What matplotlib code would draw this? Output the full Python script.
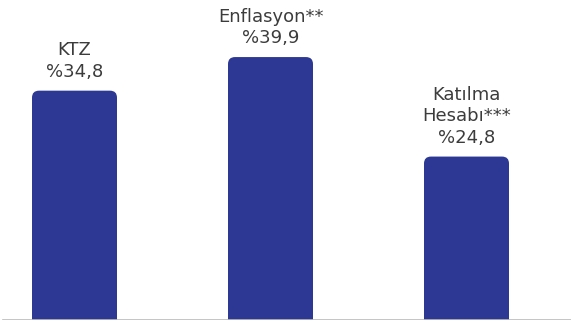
import matplotlib
matplotlib.use('Agg')
import matplotlib.pyplot as plt
from matplotlib.patches import FancyBboxPatch

# veriler
labels = ['KTZ', 'Enflasyon**', 'Katılma\nHesabı***']
values = [34.8, 39.9, 24.8]
value_text = ['%34,8', '%39,9', '%24,8']

bar_color = '#2c3893'
text_color = '#3c3c3c'

plt.rcParams['font.family'] = ['DejaVu Sans']

fig = plt.figure(figsize=(5.71, 3.22), dpi=100)
ax = fig.add_axes([0, 2 / 322, 1, 320 / 322])

px_per_unit = 6.59
ax.set_ylim(0, 320 / px_per_unit)
ax.set_xlim(-74.5 / 196, (571 - 74.5) / 196)

# üstü yuvarlatılmış çubuklar
width = 85 / 196
radius_x = 7 / 196
aspect = 196 / px_per_unit
for i, v in enumerate(values):
    bar = FancyBboxPatch((i - width / 2, -3), width, v + 3,
                         boxstyle=f'round,pad=0,rounding_size={radius_x}',
                         mutation_aspect=aspect,
                         facecolor=bar_color, edgecolor='none')
    ax.add_patch(bar)
    ax.annotate(labels[i] + '\n' + value_text[i], (i, v),
                xytext=(0, 7), textcoords='offset points',
                ha='center', va='bottom', fontsize=13,
                color=text_color, linespacing=1.25)

ax.axhline(0, color='#bbbbbb', lw=1.2, xmin=3 / 571)
ax.axis('off')

fig.savefig('out.png', dpi=100)
